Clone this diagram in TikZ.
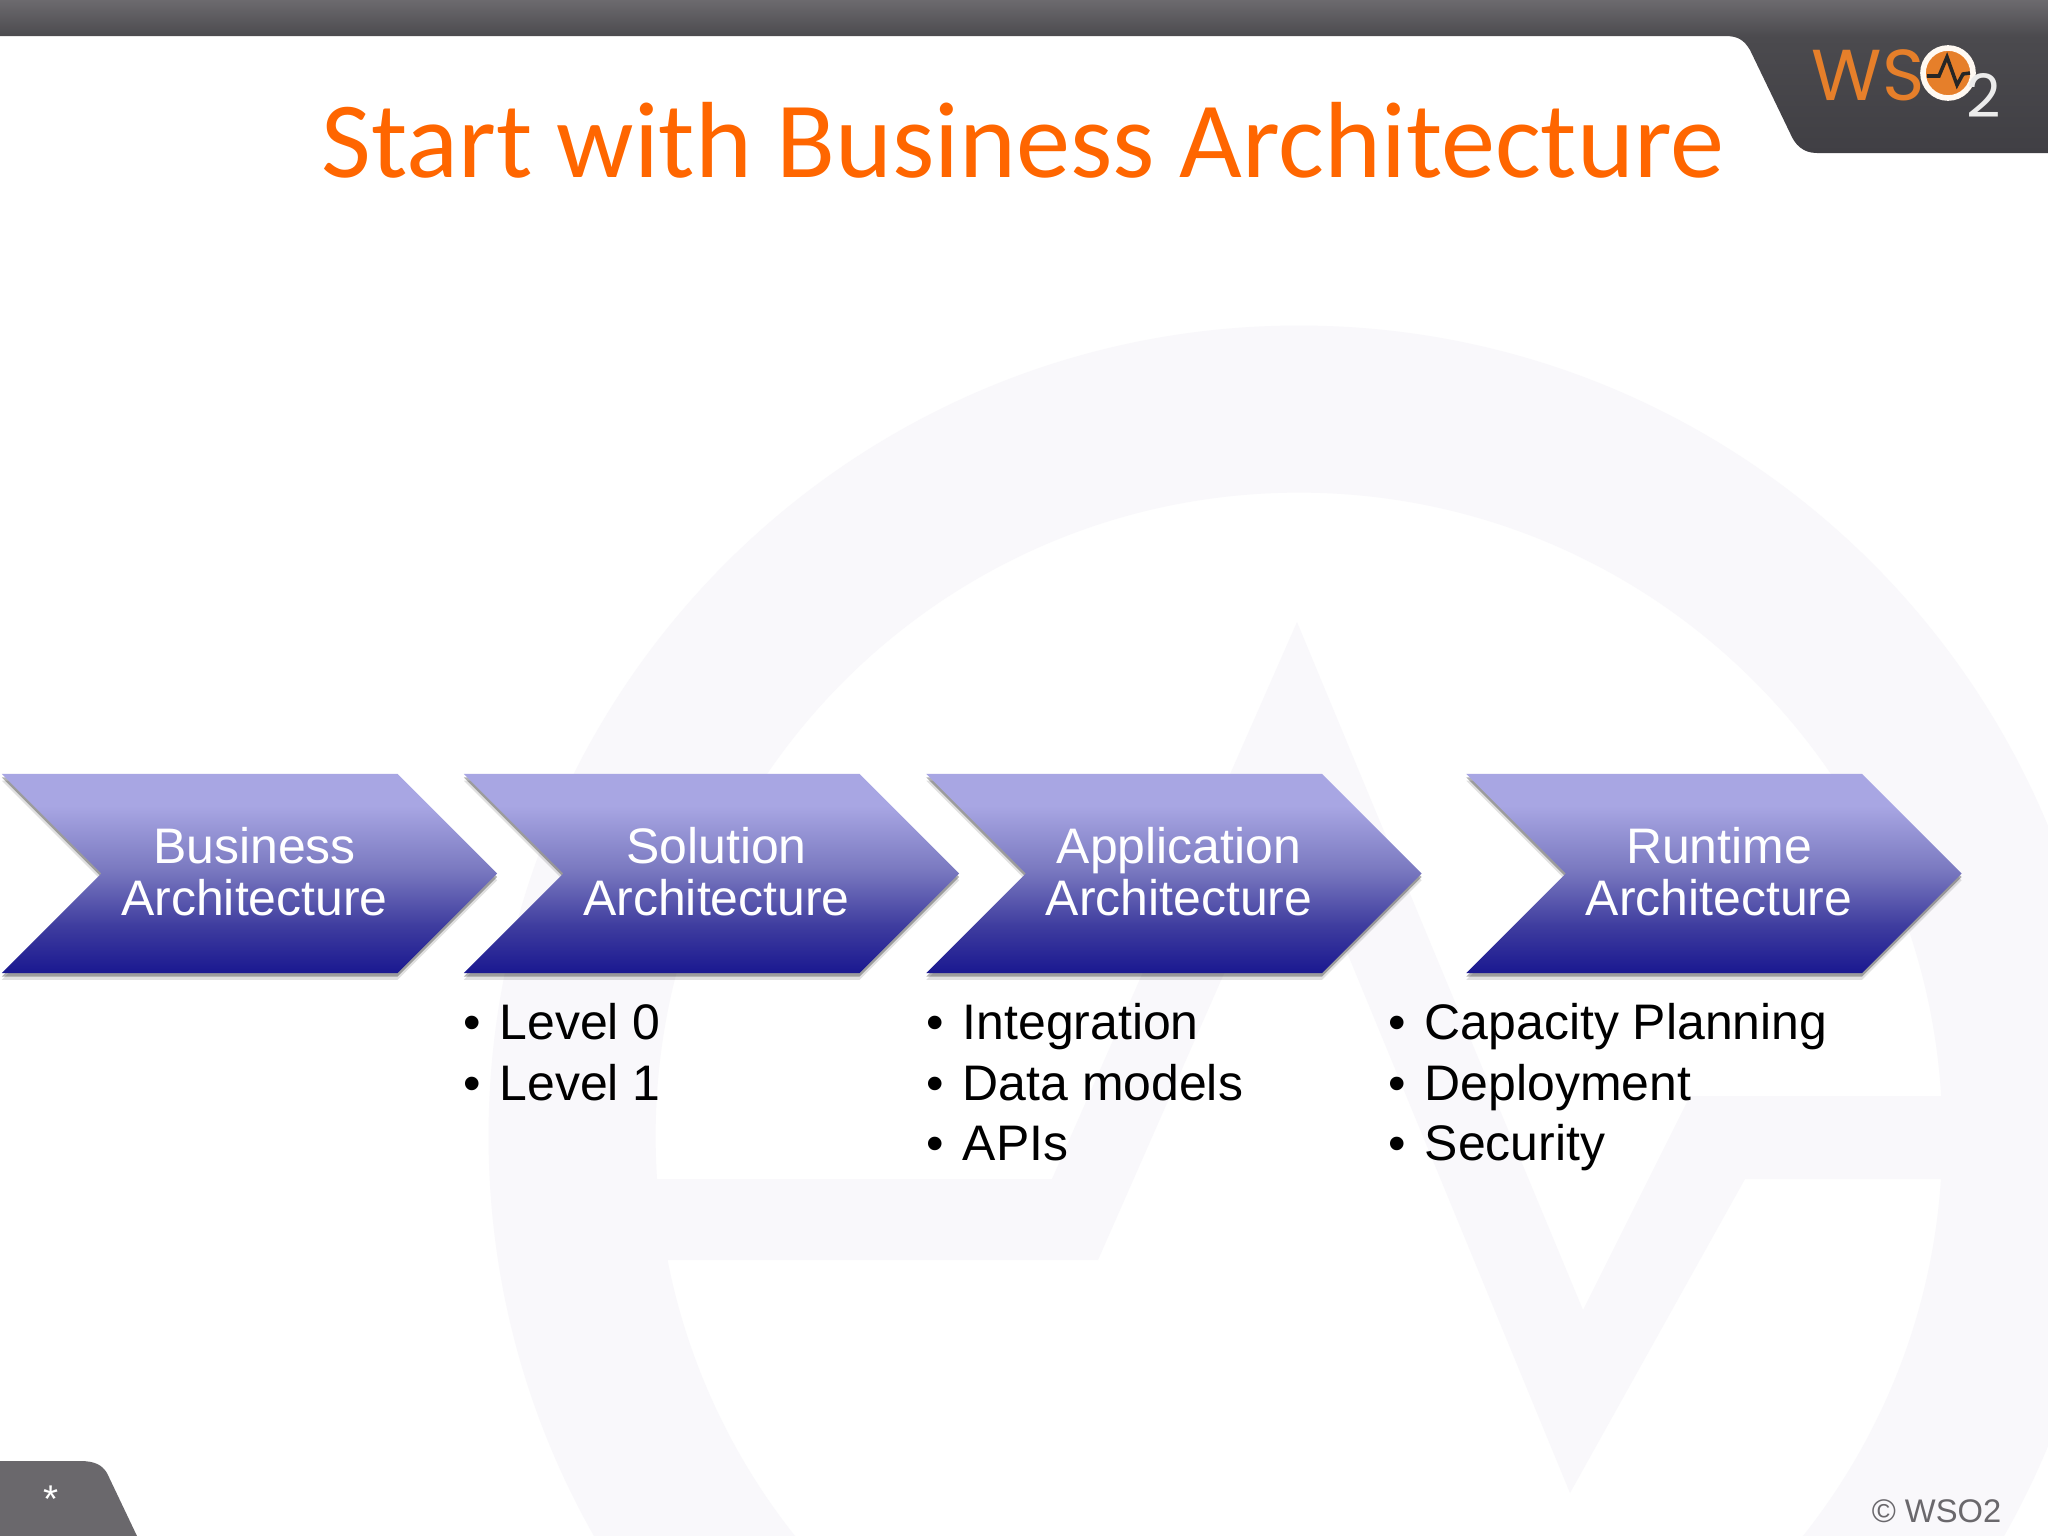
\documentclass[tikz,border=0pt]{standalone}
\usepackage{xcolor}
\usepackage{fontspec}
\usepackage{tikz}
\usetikzlibrary{shapes}
\usetikzlibrary{shapes.symbols}
\setmainfont{Liberation Sans}
\newfontfamily\titlefont{Carlito}
\newfontfamily\logofont{Poppins}
\definecolor{wsoorange}{HTML}{FF6600}
\definecolor{logoorange}{HTML}{E67F2A}
\definecolor{tabgray}{HTML}{6A686C}
\definecolor{markgray}{HTML}{F9F8FB}
\definecolor{chevbot}{HTML}{1A1890}
\definecolor{chevlow}{HTML}{3F3D9F}
\definecolor{chevmid}{HTML}{7A79C0}
\definecolor{chevtop}{HTML}{A8A6E3}
\definecolor{barbot}{HTML}{403F44}
\definecolor{barmid}{HTML}{4B4A4E}
\definecolor{bartop}{HTML}{6C6A6E}
\pgfdeclareverticalshading{chevfade}{100bp}{color(0bp)=(chevbot); color(25bp)=(chevbot); color(37bp)=(chevlow); color(51bp)=(chevmid); color(67bp)=(chevtop); color(75bp)=(chevtop); color(100bp)=(chevtop)}
\pgfdeclareverticalshading{barfade}{100bp}{color(0bp)=(barbot); color(25bp)=(barbot); color(63bp)=(barmid); color(75bp)=(bartop); color(100bp)=(bartop)}
\tikzset{chevron/.style = {shape = signal, signal from = west, signal to = east, signal pointer angle = 90, minimum width = 4.95cm, minimum height = 1.99cm, inner sep = 0, shading = chevfade, preaction = {fill = black, opacity = .12, transform canvas = {yshift = -1.9pt}}, preaction = {fill = black, opacity = .3, transform canvas = {yshift = -1pt}}}}
\tikzset{chevtext/.style = {draw = none, inner sep = 0, text = white, align = center, font = \fontsize{14.2}{14.7}\selectfont}}
\tikzset{bullets/.style = {draw = none, inner sep = 0, anchor = north west, align = left, font = \fontsize{14.2}{17.1}\selectfont}}
\newcommand{\bul}{\makebox[.38cm][l]{\hspace{.02cm}\textbullet}}

\begin{document}
\begin{tikzpicture}[x = .01cm, y = -.01cm]
\useasboundingbox (0, 0) rectangle (2048, 1536);
\fill [white] (0, 0) rectangle (2048, 1536);
%watermark
\begin{scope}
\clip (0, 0) rectangle (2048, 1536);
\fill [markgray, even odd rule] (1299, 1136) circle [radius = 8.1cm] (1299, 1136) circle [radius = 6.43cm];
\fill [markgray] (654, 1179) -- (1052, 1179) -- (1297, 622) -- (1583, 1310) -- (1690, 1096) -- (1960, 1096) -- (1960, 1179) -- (1745, 1179) -- (1570, 1493) -- (1292, 819) -- (1098, 1260) -- (665, 1260) -- cycle;
\end{scope}
%header
\shade [shading = barfade] (0, 0) -- (2048, 0) -- (2048, 153) -- (1817, 153) .. controls (1803, 153) and (1795, 145) .. (1790, 133) -- (1750, 50) .. controls (1744, 40) and (1738, 36) .. (1725, 36) -- (0, 36) -- cycle;
\fill [tabgray] (0, 1461) -- (80, 1461) .. controls (95, 1461) and (102, 1465) .. (107, 1473) -- (137, 1536) -- (0, 1536) -- cycle;
\node [draw = none, inner sep = 0, text = white, font = \fontsize{11}{11}\selectfont] (star) at (51.5, 1499) {*};
\node [draw = none, inner sep = 0, anchor = base east, text = tabgray, font = \fontsize{9.3}{9.3}\selectfont] (copy) at (2002, 1522) {© WSO2};
%title
\node [draw = none, inner sep = 0, anchor = base, text = wsoorange, font = \titlefont\fontsize{30.8}{30.8}\selectfont] (title) at (1023, 177) {Start with Business Architecture};
%logo
\node [draw = none, inner sep = 0, anchor = base west, text = logoorange, font = \logofont\fontsize{20.5}{20.5}\selectfont] (ws) at (1811, 100) {WS};
\node [circle, draw = white!95!orange, line width = 1.6pt, fill = logoorange, minimum size = .5cm, inner sep = 0] (dot) at (1948, 73) {};
\node [draw = none, inner sep = 0, anchor = base west, text = white!92!black, font = \logofont\fontsize{17}{17}\selectfont] (two) at (1966, 117) {2};
\coordinate (p1) at (1927, 76);
\coordinate (p2) at (1939, 76);
\coordinate (p3) at (1947, 57);
\coordinate (p4) at (1957, 85);
\coordinate (p5) at (1963, 74);
\coordinate (p6) at (1970, 73);
\draw [line width = 1pt, draw = black!85] (p1) -- (p2) -- (p3) -- (p4) -- (p5) -- (p6);
%chevrons
\node [chevron] (business) at (249.5, 873.5) {};
\node [chevron] (solution) at (711.5, 873.5) {};
\node [chevron] (application) at (1174, 873.5) {};
\node [chevron] (runtime) at (1714, 873.5) {};
\node [chevtext] (businesstext) at (254.5, 871.5) {Business\\Architecture};
\node [chevtext] (solutiontext) at (716.5, 871.5) {Solution\\Architecture};
\node [chevtext] (applicationtext) at (1179, 871.5) {Application\\Architecture};
\node [chevtext] (runtimetext) at (1719, 871.5) {Runtime\\Architecture};
%lists
\node [bullets] (sollist) at (461, 1003) {\bul Level 0\\\bul Level 1};
\node [bullets] (applist) at (924, 1003) {\bul Integration\\\bul Data models\\\bul APIs};
\node [bullets] (runlist) at (1386, 1003) {\bul Capacity Planning\\\bul Deployment\\\bul Security};
\end{tikzpicture}
\end{document}
